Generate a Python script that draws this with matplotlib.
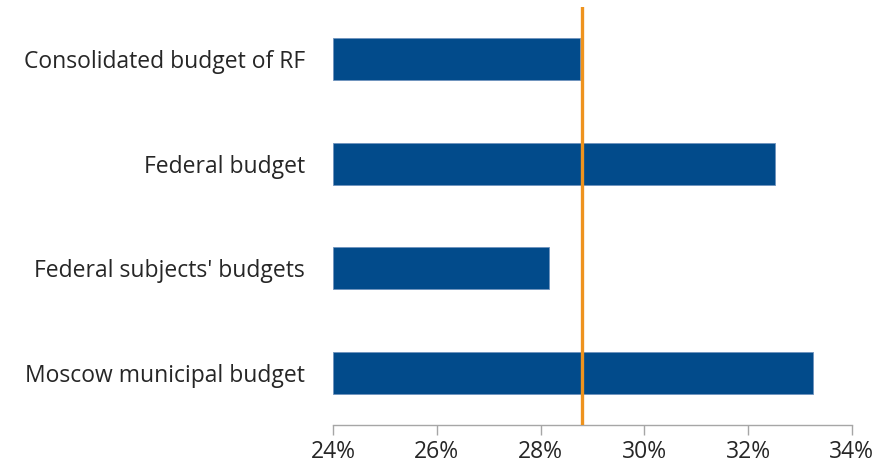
import matplotlib
matplotlib.use("Agg")
import matplotlib.pyplot as plt
from matplotlib.ticker import FuncFormatter

categories = ["Consolidated budget of RF", "Federal budget",
              "Federal subjects' budgets", "Moscow municipal budget"]
values = [28.76, 32.52, 28.17, 33.25]
reference_line = 28.8
xticks = [24, 26, 28, 30, 32, 34]

plt.rcParams['font.family'] = ['Open Sans', 'DejaVu Sans']

fig = plt.figure(figsize=(8.93, 4.68), dpi=100)
ax = fig.add_axes([0.3729, 0.0919, 0.954 - 0.3729, 0.985 - 0.0919])

ypos = list(range(len(categories)))
ax.barh(ypos, [v - 24 for v in values], left=24, height=0.4, color="#024B8B",
        edgecolor="#6F93BE", linewidth=0.6)
ax.axvline(reference_line, color="#EE931E", linewidth=2.4, zorder=5)

ax.set_xlim(24, 34)
ax.set_ylim(len(categories) - 0.5, -0.5)
ax.set_yticks(ypos)
ax.set_yticklabels(categories, fontsize=16.5, color="#262626")
ax.set_xticks(xticks)
ax.xaxis.set_major_formatter(FuncFormatter(lambda v, p: f"{v:.0f}%"))
ax.tick_params(axis='x', labelsize=16.5, labelcolor="#262626", color="#A6A6A6",
               length=7, width=1, pad=4)
ax.tick_params(axis='y', length=0, pad=20)
for s in ['top', 'right', 'left']:
    ax.spines[s].set_visible(False)
ax.spines['bottom'].set_color("#A6A6A6")
ax.spines['bottom'].set_linewidth(1)

fig.savefig("out.png", dpi=100)
